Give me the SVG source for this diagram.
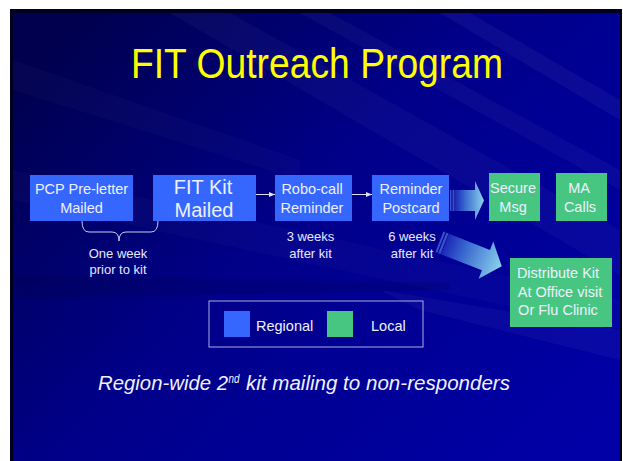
<svg xmlns="http://www.w3.org/2000/svg" width="623" height="461" viewBox="0 0 623 461">
<defs>
<linearGradient id="bg" x1="0" y1="0.15" x2="1" y2="0.85">
<stop offset="0" stop-color="#00004E"/>
<stop offset="0.45" stop-color="#00008A"/>
<stop offset="1" stop-color="#0000A6"/>
</linearGradient>
<linearGradient id="ag" x1="0" y1="0" x2="1" y2="0">
<stop offset="0" stop-color="#1A28B8"/>
<stop offset="0.35" stop-color="#3A6AD0"/>
<stop offset="1" stop-color="#8CD2EC"/>
</linearGradient>
<marker id="ah" viewBox="0 0 10 10" refX="10" refY="5" markerWidth="6" markerHeight="6" markerUnits="userSpaceOnUse" orient="auto">
<path d="M0,1 L10,5 L0,9 Z" fill="#E0E0F8"/>
</marker>
<style>
.reg{fill:#3567FF}
.loc{fill:#47C682}
.bt{font-family:"Liberation Sans",Arial,sans-serif;font-size:14.5px;fill:#EEF0FF;text-anchor:middle}
.sm{font-family:"Liberation Sans",Arial,sans-serif;font-size:13px;fill:#E6E8FF;text-anchor:middle}
.conn{stroke:#E0E0F8;stroke-width:1;fill:none}
</style>
</defs>
<rect x="0" y="0" width="623" height="461" fill="#FFFFFF"/>
<rect x="10" y="9" width="612" height="452" fill="#00001E"/>
<rect x="13" y="13" width="607" height="448" fill="url(#bg)"/>
<g fill="#FFFFFF">
<polygon points="170,13 230,13 620,230 620,275" opacity="0.03"/>
<polygon points="300,13 330,13 620,170 620,190" opacity="0.035"/>
<polygon points="440,13 470,13 620,100 620,120" opacity="0.045"/>
<polygon points="13,170 13,200 620,330 620,300" opacity="0.02"/>
<polygon points="380,290 620,330 620,360 420,310" opacity="0.035"/>
<polygon points="13,60 13,90 300,180 300,160" opacity="0.02"/>
</g>
<polygon points="13,275 13,298 450,290 450,283" fill="#000030" opacity="0.15"/>
<text x="317" y="78" font-family="'Liberation Sans',Arial,sans-serif" font-size="43" fill="#FFFF00" text-anchor="middle" textLength="372" lengthAdjust="spacingAndGlyphs">FIT Outreach Program</text>

<g id="connectors">
<line class="conn" x1="256" y1="194.5" x2="275" y2="194.5" marker-end="url(#ah)"/>
<line class="conn" x1="352" y1="194.5" x2="372" y2="194.5" marker-end="url(#ah)"/>
<path d="M82,221 Q82,232 89,232 H112 Q119,232 119,241 Q119,232 126,232 H151 Q158,232 158,221" fill="none" stroke="#C8CCEE" stroke-width="1"/>
<g id="arrow-right">
<rect x="450" y="190" width="1.5" height="21" fill="#3A50C8"/>
<rect x="452.5" y="190" width="2" height="21" fill="#3A50C8"/>
<path d="M455,190 H475 V181 L484,200.5 L475,220 V211 H455 Z" fill="url(#ag)"/>
</g>
<g id="arrow-diag" transform="translate(445,244) rotate(21.5)">
<rect x="-6" y="-11" width="2" height="22" fill="#3A50C8"/>
<rect x="-3" y="-11" width="2.5" height="22" fill="#3A50C8"/>
<path d="M0,-11 H44 V-20 L61,0 L44,20 V11 H0 Z" fill="url(#ag)"/>
</g>
</g>

<g id="pcp">
<rect class="reg" x="30" y="175" width="103" height="46"/>
<text class="bt" x="81.5" y="194">PCP Pre-letter</text>
<text class="bt" x="81.5" y="213">Mailed</text>
</g>
<g id="fitkit">
<rect class="reg" x="153" y="175" width="103" height="46"/>
<text class="bt" x="203" y="194" style="font-size:20px">FIT Kit</text>
<text class="bt" x="204" y="216.5" style="font-size:20px">Mailed</text>
</g>
<g id="robo">
<rect class="reg" x="275" y="175" width="77" height="46"/>
<text class="bt" x="312" y="194">Robo-call</text>
<text class="bt" x="312" y="213">Reminder</text>
</g>
<g id="postcard">
<rect class="reg" x="372" y="175" width="77" height="46"/>
<text class="bt" x="411" y="194">Reminder</text>
<text class="bt" x="411" y="213">Postcard</text>
</g>
<g id="secure">
<rect class="loc" x="489" y="173" width="51" height="48"/>
<text class="bt" x="513" y="193">Secure</text>
<text class="bt" x="513" y="211.5">Msg</text>
</g>
<g id="ma">
<rect class="loc" x="556" y="173" width="51" height="48"/>
<text class="bt" x="579" y="193">MA</text>
<text class="bt" x="580" y="211.5">Calls</text>
</g>
<g id="distribute">
<rect class="loc" x="510" y="258" width="102" height="69"/>
<text class="bt" x="558" y="278">Distribute Kit</text>
<text class="bt" x="560" y="296.5">At Office visit</text>
<text class="bt" x="558" y="315">Or Flu Clinic</text>
</g>
<g id="labels">
<text class="sm" x="118" y="257.5">One week</text>
<text class="sm" x="118" y="274">prior to kit</text>
<text class="sm" x="310.5" y="241">3 weeks</text>
<text class="sm" x="310.5" y="257.5">after kit</text>
<text class="sm" x="412" y="241">6 weeks</text>
<text class="sm" x="412" y="257.5">after kit</text>
</g>
<g id="legend">
<rect x="209" y="301" width="214" height="46" fill="none" stroke="#A8AEE0" stroke-width="1"/>
<rect class="reg" x="224" y="311" width="26" height="26"/>
<text class="bt" x="256" y="330.5" style="text-anchor:start">Regional</text>
<rect class="loc" x="327" y="311" width="26" height="26"/>
<text class="bt" x="371" y="330.5" style="text-anchor:start">Local</text>
</g>
<g id="footer" font-family="'Liberation Sans',Arial,sans-serif" font-style="italic" fill="#F0F2FF">
<text x="98" y="390" font-size="20" textLength="130" lengthAdjust="spacingAndGlyphs">Region-wide 2</text>
<text x="228.5" y="382.5" font-size="12" textLength="11" lengthAdjust="spacingAndGlyphs">nd</text>
<text x="246" y="390" font-size="20" textLength="264" lengthAdjust="spacingAndGlyphs">kit mailing to non-responders</text>
</g>
</svg>
